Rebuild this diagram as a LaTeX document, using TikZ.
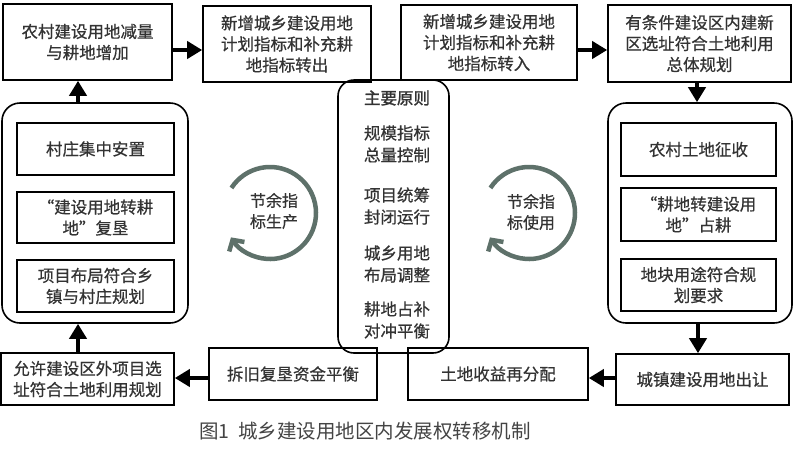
\documentclass[tikz,border=0pt]{standalone}
\usepackage{fontspec}
\newfontfamily\cjk[FakeBold=0.6]{Noto Sans CJK SC}
\newfontfamily\cjkcap{Noto Sans CJK SC}
\newfontfamily\cjkb[FakeBold=1.6]{Noto Sans CJK SC}
\usetikzlibrary{arrows.meta,calc}
\definecolor{txt}{HTML}{333333}
\definecolor{cap}{HTML}{444444}
\definecolor{cyc}{HTML}{5E716A}
\begin{document}
\begin{tikzpicture}[x=1pt,y=1pt,
  box/.style={draw=black, line width=1.6pt, inner sep=0pt, align=center,
    font=\cjk\fontsize{16.5}{21}\selectfont, text=txt},
  cont/.style={draw=black, line width=1.6pt, rounded corners=18pt, inner sep=0pt},
  lbl/.style={inner sep=0pt, align=center, font=\cjk\fontsize{16.5}{22}\selectfont, text=txt},
  arr/.style={line width=4.5pt, -{Triangle[length=15pt,width=17pt]}},
  cyca/.style={draw=cyc, line width=4.5pt, -{Straight Barb[length=8pt,width=18pt]}}]
\fill[white] (0,0) rectangle (800,-448);
\useasboundingbox (0,0) rectangle (800,-448);

% top row
\node[box, minimum width=169, minimum height=76] (A) at (87.5,-42) {农村建设用地减量\\与耕地增加};
\node[box, minimum width=168, minimum height=76] (B) at (287,-44) {新增城乡建设用地\\计划指标和补充耕\\地指标转出};
\node[box, minimum width=176, minimum height=75] (C) at (489,-42.5) {新增城乡建设用地\\计划指标和补充耕\\地指标转入};
\node[box, minimum width=183, minimum height=77] (D) at (699.5,-43.5) {有条件建设区内建新\\区选址符合土地利用\\总体规划};

% left container
\node[cont, minimum width=186, minimum height=220] (LC) at (95,-213) {};
\node[box, minimum width=157, minimum height=52] (L1) at (95.5,-149) {村庄集中安置};
\node[box, minimum width=157, minimum height=51] (L2) at (95.5,-217.5) {“建设用地转耕\\地”复垦};
\node[box, minimum width=157, minimum height=52] (L3) at (95.5,-286) {项目布局符合乡\\镇与村庄规划};

% right container
\node[cont, minimum width=184, minimum height=220] (RC) at (700,-213) {};
\node[box, minimum width=155, minimum height=53] (R1) at (698.5,-149.5) {农村土地征收};
\node[box, minimum width=155, minimum height=53] (R2) at (698.5,-214.5) {“耕地转建设用\\地”占耕};
\node[box, minimum width=155, minimum height=52] (R3) at (698.5,-285) {地块用途符合规\\划要求};

% centre principles
\node[cont, rounded corners=16pt, minimum width=111, minimum height=273] (P) at (393.5,-216.5) {};
\node[lbl, font=\cjkb\fontsize{16.5}{22}\selectfont] (P0) at (397,-98) {主要原则};
\node[lbl] (P1) at (397,-144) {规模指标\\总量控制};
\node[lbl] (P2) at (397,-206) {项目统筹\\封闭运行};
\node[lbl] (P3) at (397,-264) {城乡用地\\布局调整};
\node[lbl] (P4) at (397,-320) {耕地占补\\对冲平衡};

% bottom row
\node[box, minimum width=173, minimum height=52] (E) at (87.5,-379) {允许建设区外项目选\\址符合土地利用规划};
\node[box, minimum width=168, minimum height=52] (F) at (293,-374) {拆旧复垦资金平衡};
\node[box, minimum width=180, minimum height=52] (G) at (498,-374) {土地收益再分配};
\node[box, minimum width=173, minimum height=51] (H) at (702.5,-379.5) {城镇建设用地出让};

% cycles
\coordinate (c1) at (270,-213);
\coordinate (c2) at (529,-213);
\draw[cyca] ($(c1)+(147:46)$) arc[start angle=147, end angle=-148, radius=46];
\draw[cyca] ($(c2)+(147:46)$) arc[start angle=147, end angle=-148, radius=46];
\node[lbl, font=\cjk\fontsize{16}{21}\selectfont] (T1) at (274,-211) {节余指\\标生产};
\node[lbl, font=\cjk\fontsize{16}{21}\selectfont] (T2) at (531,-212) {节余指\\标使用};

% connectors
\draw[arr] ([yshift=-8pt]A.east) -- ([yshift=-8pt]A.east -| B.west);
\draw[arr] ([yshift=-7.5pt]C.east) -- ([yshift=-7.5pt]C.east -| D.west);
\draw[arr] ([xshift=-17pt]LC.north) -- ([xshift=-17pt]LC.north |- A.south);
\draw[arr] ([xshift=-17pt]LC.south |- E.north) -- ([xshift=-17pt]LC.south);
\draw[arr] ([xshift=-3pt]RC.north |- D.south) -- ([xshift=-3pt]RC.north);
\draw[arr] ([xshift=-2pt]RC.south) -- ([xshift=-2pt]RC.south |- H.north);
\draw[arr] ([yshift=1.5pt]H.west) -- ([yshift=1.5pt]H.west -| G.east);
\draw[arr] ([yshift=-4pt]F.west) -- ([yshift=-4pt]F.west -| E.east);

% caption
\node[inner sep=0pt, font=\cjkcap\fontsize{19.5}{22}\selectfont, text=cap] (cap) at (365,-431) {图1\hspace{0.45em}城乡建设用地区内发展权转移机制};
\end{tikzpicture}
\end{document}
